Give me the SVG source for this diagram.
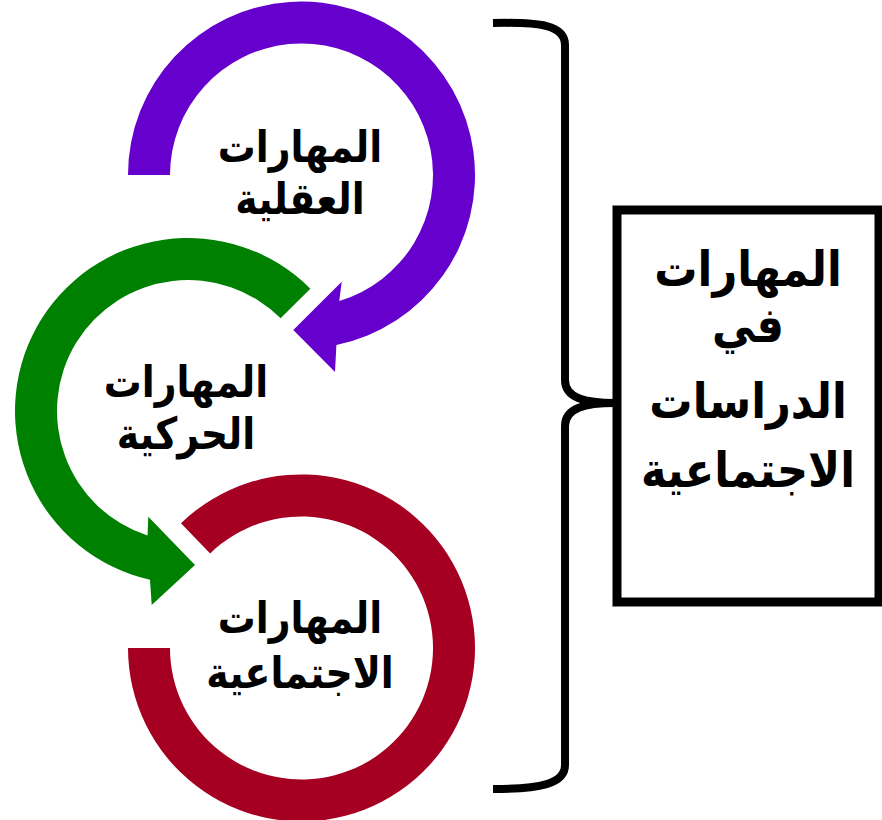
<svg xmlns="http://www.w3.org/2000/svg" width="882" height="820" viewBox="0 0 882 820">
  <style>
    .lbl { font-family: "DejaVu Sans", "Noto Sans", sans-serif; font-weight: bold; fill: #000; text-anchor: middle; }
    .c { font-size: 44px; }
    .m { font-size: 49px; }
    .brace { fill: none; stroke: #000; stroke-width: 8; stroke-linecap: butt; stroke-linejoin: round; }
    .box { fill: #fff; stroke: #000; stroke-width: 9; }
  </style>
  <rect width="882" height="820" fill="#fff"/>

  <g id="node-ijtimaiya">
    <path fill="#A50021" d="M180.97,523.2 A173.5,173.5 0 1 1 128,648 L170,648 A131.5,131.5 0 1 0 210.15,553.41 Z"/>
    <g transform="translate(300,0) scale(0.86,1)">
      <text class="lbl c" x="0" y="633">المهارات</text>
      <text class="lbl c" x="0" y="688">الاجتماعية</text>
    </g>
  </g>

  <g id="node-harakiya">
    <path fill="#008000" d="M310.33,288.67 A173,173 0 1 0 149.97,579.77 L151.7,605 L195,565 L148.3,516.7 L147.52,535.59 A131,131 0 1 1 280.63,318.37 Z"/>
    <g transform="translate(186,0) scale(0.86,1)">
      <text class="lbl c" x="0" y="397">المهارات</text>
      <text class="lbl c" x="0" y="449">الحركية</text>
    </g>
  </g>

  <g id="node-aqliya">
    <path fill="#6600CC" d="M128,175 A173.5,173.5 0 1 1 336.39,344.96 L335,372 L293.3,330 L341.7,281.7 L339.29,300.95 A131.5,131.5 0 1 0 170,175 Z"/>
    <g transform="translate(300,0) scale(0.86,1)">
      <text class="lbl c" x="0" y="162">المهارات</text>
      <text class="lbl c" x="0" y="214">العقلية</text>
    </g>
  </g>

  <g id="node-main">
    <rect class="box" x="617" y="210" width="262" height="392"/>
    <g transform="translate(748,0) scale(0.88,1)">
      <text class="lbl m" x="0" y="286">المهارات</text>
      <text class="lbl m" x="0" y="342">في</text>
      <text class="lbl m" x="0" y="418">الدراسات</text>
      <text class="lbl m" x="0" y="487">الاجتماعية</text>
    </g>
  </g>

  <g id="connectors">
    <path class="brace" d="M493,23 C540,22 565,25 565,45 L565,380 C565,398 585,403 615,403 C585,403 565,408 565,426 L565,765 C565,784 540,789 493,789"/>
  </g>
</svg>
